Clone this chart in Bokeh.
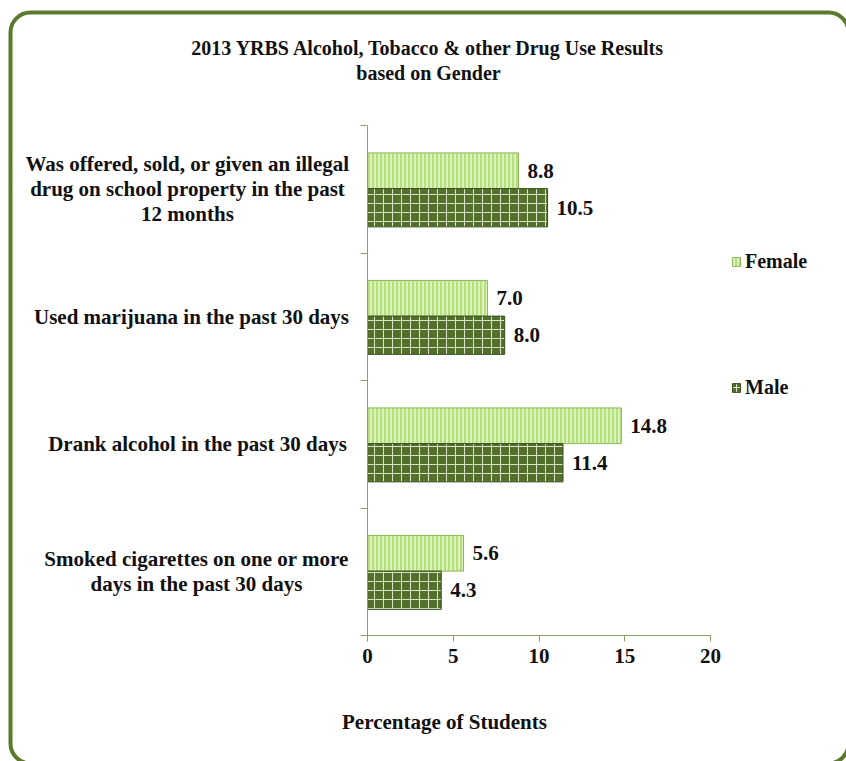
from bokeh.plotting import figure
from bokeh.models import (ColumnDataSource, Range1d, FixedTicker, Label, Legend,
                          LegendItem, BoxAnnotation, LinearAxis)
from bokeh.core.properties import value
from bokeh.embed import file_html
from bokeh.resources import INLINE

# ---- data (top to bottom as in the chart) ----
categories = [
    "Was offered, sold, or given an illegal\ndrug on school property in the past\n12 months",
    "Used marijuana in the past 30 days",
    "Drank alcohol in the past 30 days",
    "Smoked cigarettes on one or more\ndays in the past 30 days",
]
female = [8.8, 7.0, 14.8, 5.6]
male = [10.5, 8.0, 11.4, 4.3]
x_ticks = [0, 5, 10, 15, 20]
title_text = "2013 YRBS Alcohol, Tobacco & other Drug Use Results\nbased on Gender"
x_label = "Percentage of Students"
series_names = ["Female", "Male"]

FONT = "Liberation Serif"
GREEN = "#5b7a2b"
AXIS = "#8aa060"
TXT = "#111111"

# layout: horizontal centre (px) of each category label block
label_cx = [187, 191, 197, 196]

n = len(categories)
pos = [n - 1 - i + 0.5 for i in range(n)]
src = ColumnDataSource(dict(
    yf=[p + 0.145 for p in pos],
    ym=[p - 0.145 for p in pos],
    female=female, male=male,
    flab=[f"{v:.1f}" for v in female],
    mlab=[f"{v:.1f}" for v in male],
))

W, H = 846, 761
PXX = 17.15   # px per percent
PXY = 127.5   # px per category band
p = figure(width=W, height=H, output_backend="svg", toolbar_location=None,
           x_range=Range1d(-367 / PXX, (W - 367) / PXX),
           y_range=Range1d(-(H - 635) / PXY, 4 + 125 / PXY),
           x_axis_location=None, y_axis_location=None,
           min_border=0)
p.title.visible = False
p.outline_line_color = None
p.grid.visible = False
p.background_fill_color = "white"
p.border_fill_color = "white"

# rounded border around the whole chart
p.add_layout(BoxAnnotation(left=-(367 - 10) / PXX, right=(848 - 367) / PXX,
                           top=(635 - 12) / PXY, bottom=-(763 - 635) / PXY,
                           fill_color=None, fill_alpha=0, line_color=GREEN,
                           line_alpha=1, line_width=4,
                           border_radius=20, level="underlay"))

rf = p.hbar(y="yf", right="female", left=0, height=0.28, source=src,
            fill_color="#b6e07c", line_color="#8db656", line_width=1,
            hatch_pattern="|", hatch_color="#e9f8d2", hatch_scale=4,
            hatch_weight=1.5)
rm = p.hbar(y="ym", right="male", left=0, height=0.3, source=src,
            fill_color="#526f2c", line_color="#3a5220", line_width=1,
            hatch_pattern="+", hatch_color="#d9e7c6", hatch_scale=9,
            hatch_weight=1)

common = dict(text_font=value(FONT), text_font_style="bold",
              text_font_size="21px", text_baseline="middle", x_offset=9,
              text_color=TXT)
p.text(x="female", y="yf", text="flab", source=src, **common)
p.text(x="male", y="ym", text="mlab", source=src, **common)

# axes drawn at fixed data locations
xa = LinearAxis(fixed_location=0, ticker=FixedTicker(ticks=x_ticks),
                bounds=(0, 20), axis_line_color=AXIS,
                major_tick_line_color=AXIS, major_tick_out=6, major_tick_in=0,
                minor_tick_line_color=None, major_label_standoff=7,
                major_label_text_font=FONT, major_label_text_font_style="bold",
                major_label_text_font_size="21px",
                major_label_text_color=TXT)
ya = LinearAxis(fixed_location=0, ticker=FixedTicker(ticks=list(range(n + 1))),
                bounds=(0, n), axis_line_color=AXIS,
                major_tick_line_color=AXIS, major_tick_out=7, major_tick_in=0,
                minor_tick_line_color=None,
                major_label_text_font_size="0px", major_label_text_color=None)
p.add_layout(xa, "below")
p.add_layout(ya, "left")

# category labels
for c, yy, cx in zip(categories, pos, label_cx):
    p.add_layout(Label(x=-(367 - cx) / PXX, y=yy, text=c, text_align="center",
                       text_baseline="middle", text_font=FONT,
                       text_font_style="bold", text_font_size="21px",
                       text_line_height=1.05, text_color=TXT))

p.add_layout(Label(x=(428 - 367) / PXX, y=(635 - 60) / PXY, text=title_text,
                   text_align="center", text_baseline="middle", text_font=FONT,
                   text_font_style="bold", text_font_size="20px",
                   text_line_height=1.1, text_color=TXT))
p.add_layout(Label(x=(444 - 367) / PXX, y=-(721 - 635) / PXY, text=x_label,
                   text_align="center", text_baseline="middle", text_font=FONT,
                   text_font_style="bold", text_font_size="21px",
                   text_color=TXT))

# legends (one item each, placed like the original)
for r, name, cy in [(rf, series_names[0], 263), (rm, series_names[1], 389)]:
    lg = Legend(items=[LegendItem(label=name, renderers=[r])],
                location=(731, H - cy - 10), glyph_width=10, glyph_height=11,
                label_standoff=4, padding=0, margin=0, label_height=20,
                border_line_color=None, background_fill_alpha=0,
                label_text_font=FONT, label_text_font_style="bold",
                label_text_font_size="20px", label_text_color=TXT)
    p.add_layout(lg)

open("out.html", "w").write(file_html(p, INLINE))
